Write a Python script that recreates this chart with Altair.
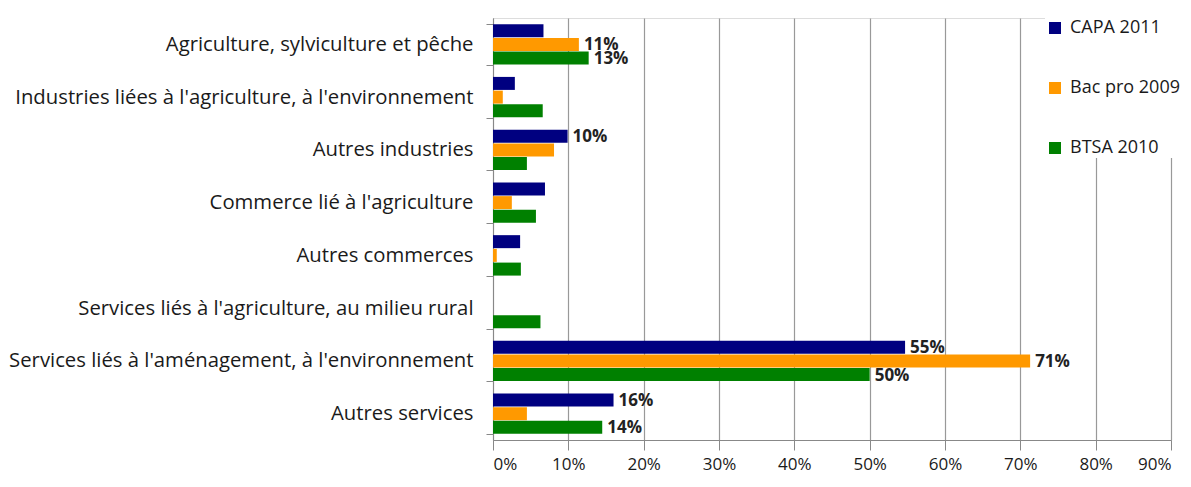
import altair as alt
import pandas as pd

categories = [
    "Agriculture, sylviculture et pêche",
    "Industries liées à l'agriculture, à l'environnement",
    "Autres industries",
    "Commerce lié à l'agriculture",
    "Autres commerces",
    "Services liés à l'agriculture, au milieu rural",
    "Services liés à l'aménagement, à l'environnement",
    "Autres services",
]
series = ["CAPA 2011", "Bac pro 2009", "BTSA 2010"]
colors = ["#000080", "#FF9900", "#008000"]

capa = [0.067, 0.029, 0.099, 0.069, 0.036, 0.0, 0.547, 0.160]
bacpro = [0.114, 0.013, 0.081, 0.025, 0.005, 0.0, 0.713, 0.045]
btsa = [0.127, 0.066, 0.045, 0.057, 0.037, 0.063, 0.500, 0.145]

capa_labels = ["", "", "10%", "", "", "", "55%", "16%"]
bacpro_labels = ["11%", "", "", "", "", "", "71%", ""]
btsa_labels = ["13%", "", "", "", "", "", "50%", "14%"]

rows = []
for vals, labs, s in [(capa, capa_labels, series[0]), (bacpro, bacpro_labels, series[1]), (btsa, btsa_labels, series[2])]:
    for c, v, l in zip(categories, vals, labs):
        rows.append({"cat": c, "serie": s, "value": v, "label": l})
df = pd.DataFrame(rows)

FONT = "Open Sans"

y_enc = alt.Y("cat:N", sort=categories, title=None,
              scale=alt.Scale(paddingInner=0.22, paddingOuter=0.11),
              axis=alt.Axis(labelFontSize=20.3, labelColor="#1a1a1a", labelFont=FONT,
                            labelPadding=13, tickBand="extent", tickSize=7,
                            tickColor="#888888", domainColor="#888888", labelLimit=600,
                            grid=False))
yoff = alt.YOffset("serie:N", sort=series, scale=alt.Scale(paddingInner=0, paddingOuter=0))
x_enc = alt.X("value:Q", title=None,
              scale=alt.Scale(domain=[0, 0.9], nice=False),
              axis=alt.Axis(format=".0%", values=[i / 10 for i in range(10)],
                            labelFontSize=17, labelColor="#1a1a1a", labelFont=FONT,
                            labelPadding=6, tickSize=10, tickColor="#888888",
                            domainColor="#888888", gridColor="#999999", gridWidth=1.2))

bars = alt.Chart(df).mark_bar(size=13).encode(
    y=y_enc, yOffset=yoff, x=x_enc,
    color=alt.Color("serie:N", sort=series,
                    scale=alt.Scale(domain=series, range=colors),
                    legend=alt.Legend(title=None, orient="none", legendX=552, legendY=0,
                                      fillColor="white", padding=1,
                                      symbolType="square", symbolSize=144,
                                      symbolStrokeWidth=0, rowPadding=42,
                                      labelFontSize=18, labelFont=FONT,
                                      labelColor="#1a1a1a", labelOffset=6,
                                      labelLimit=300)),
)

text = alt.Chart(df).mark_text(align="left", baseline="middle", dx=5, dy=1,
                               fontSize=17, fontWeight="bold", font=FONT,
                               color="#222222").encode(
    y=alt.Y("cat:N", sort=categories), yOffset=yoff,
    x="value:Q", text="label:N")

chart = (bars + text).properties(
    width=678, height=422,
    padding={"left": 0, "top": 0, "right": 0, "bottom": 4},
).configure_view(stroke=None).configure(font=FONT)

chart.save("out.html", embed_options={"renderer": "svg", "actions": False})
